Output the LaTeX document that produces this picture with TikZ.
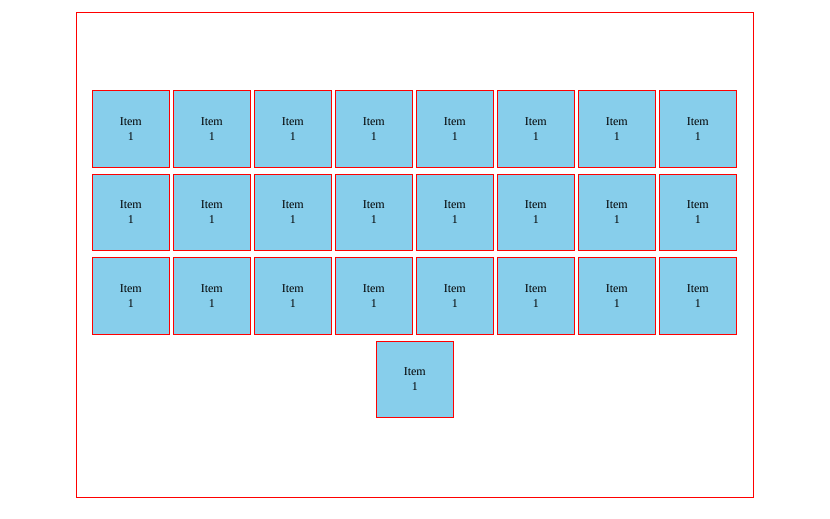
\documentclass[tikz,border=0pt]{standalone}
\usepackage{fontspec}
\setmainfont{Liberation Serif}
\definecolor{skyb}{HTML}{87CEEB}
\begin{document}
\begin{tikzpicture}[x=1pt,y=-1pt,
  itembox/.style={draw=red,fill=skyb,line width=1pt,minimum width=76.5pt,minimum height=76.5pt,inner sep=0pt,align=center,font=\fontsize{12pt}{15pt}\selectfont,anchor=north west},
  frame/.style={draw=red,line width=1pt}]
\useasboundingbox (0,0) rectangle (830,519);
\draw[frame] (76.5,12.5) rectangle (753.5,497.5);
\foreach \r/\y in {0/90,1/173.5,2/257} {
  \foreach \c in {0,...,7} {
    \node[itembox] (b\r\c) at ({92+81*\c},\y) {Item\\1};
  }
}
\node[itembox] (b30) at (376,340.5) {Item\\1};
\end{tikzpicture}
\end{document}
